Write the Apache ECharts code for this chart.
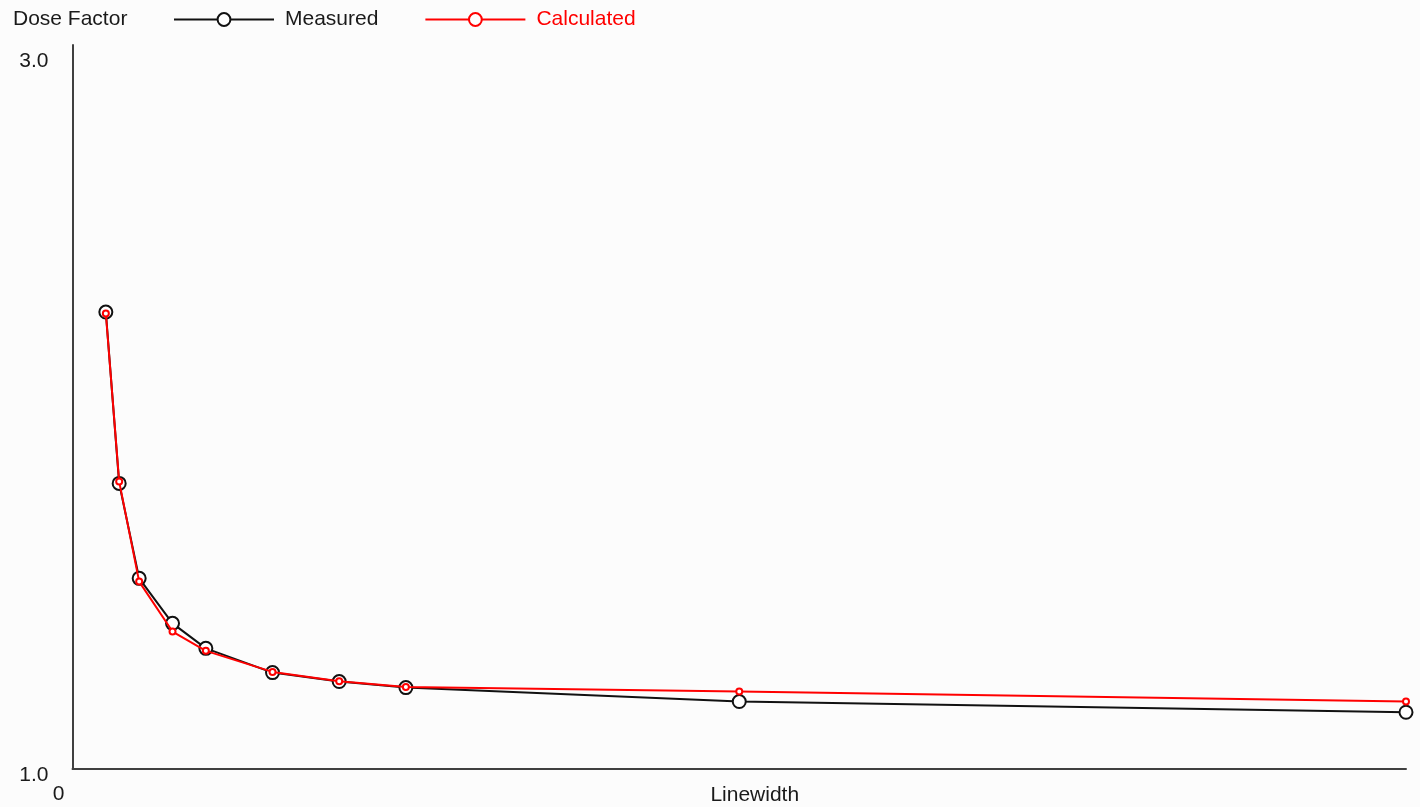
<!DOCTYPE html>
<html>
<head>
<meta charset="utf-8">
<title>Dose Factor vs Linewidth</title>
<script src="https://cdn.jsdelivr.net/npm/echarts@6/dist/echarts.min.js"></script>
<style>
  html, body { margin: 0; padding: 0; background: #fcfcfc; }
  #chart { width: 1420px; height: 807px; }
</style>
</head>
<body>
<div id="chart"></div>
<script>
// Linewidth values (x) shared by both curves
const linewidths = [0.5, 0.7, 1, 1.5, 2, 3, 4, 5, 10, 20];
// Dose factor readings
const measured   = [2.28, 1.80, 1.534, 1.408, 1.338, 1.270, 1.245, 1.228, 1.189, 1.159];
const calculated = [2.276, 1.805, 1.525, 1.385, 1.331, 1.272, 1.246, 1.230, 1.217, 1.189];
// Tick labels shown on the axes
const yTicks = [1, 3];
const xTicks = [0];

const pairs = (xs, ys) => xs.map((x, i) => [x, ys[i]]);
const font = 'Liberation Sans, Arial, sans-serif';

const chart = echarts.init(document.getElementById('chart'), null, { renderer: 'canvas' });

chart.setOption({
  backgroundColor: '#fcfcfc',
  animation: false,
  title: {
    text: 'Dose Factor',
    left: 13,
    top: 9,
    padding: 0,
    textStyle: { fontFamily: font, fontSize: 21, fontWeight: 'normal', color: '#1a1a1a' }
  },
  legend: {
    left: 173,
    top: 9,
    padding: 0,
    itemWidth: 100,
    itemHeight: 16,
    itemGap: 46,
    textStyle: { fontFamily: font, fontSize: 21, color: '#1a1a1a', padding: [0, 0, 0, 6] },
    data: [
      { name: 'Measured', textStyle: { color: '#1a1a1a' } },
      { name: 'Calculated', textStyle: { color: '#ff0000' } }
    ]
  },
  grid: { left: 72.5, right: 14, top: 45, bottom: 38, containLabel: false, outerBoundsMode: 'none' },
  xAxis: {
    type: 'value',
    min: 0,
    max: 20,
    name: 'Linewidth',
    nameLocation: 'middle',
    nameGap: 16,
    nameMoveOverlap: false,
    nameTextStyle: { fontFamily: font, fontSize: 21, color: '#1a1a1a', padding: [0, 0, 0, 31] },
    axisLine: { show: true, lineStyle: { color: '#404040', width: 2 } },
    axisTick: { show: false },
    splitLine: { show: false },
    axisLabel: {
      customValues: xTicks,
      fontFamily: font, fontSize: 21, color: '#1a1a1a',
      align: 'right', margin: 15, padding: [0, 8, 0, 0]
    }
  },
  yAxis: {
    type: 'value',
    min: 1,
    max: 3.028,
    axisLine: { show: true, lineStyle: { color: '#404040', width: 2 } },
    axisTick: { show: false },
    splitLine: { show: false },
    axisLabel: {
      customValues: yTicks,
      formatter: v => v.toFixed(1),
      fontFamily: font, fontSize: 21, color: '#1a1a1a',
      margin: 24, verticalAlign: 'top', lineHeight: 12
    }
  },
  series: [
    {
      name: 'Measured',
      type: 'line',
      data: pairs(linewidths, measured),
      symbol: 'emptyCircle',
      symbolSize: 13,
      showAllSymbol: true,
      lineStyle: { color: '#111', width: 2 },
      itemStyle: { color: '#111', borderColor: '#111', borderWidth: 2 },
      z: 2
    },
    {
      name: 'Calculated',
      type: 'line',
      data: pairs(linewidths, calculated),
      symbol: 'emptyCircle',
      symbolSize: 6,
      showAllSymbol: true,
      lineStyle: { color: '#ff0000', width: 2 },
      itemStyle: { color: '#ff0000', borderColor: '#ff0000', borderWidth: 2 },
      z: 3
    }
  ]
});
</script>
</body>
</html>
